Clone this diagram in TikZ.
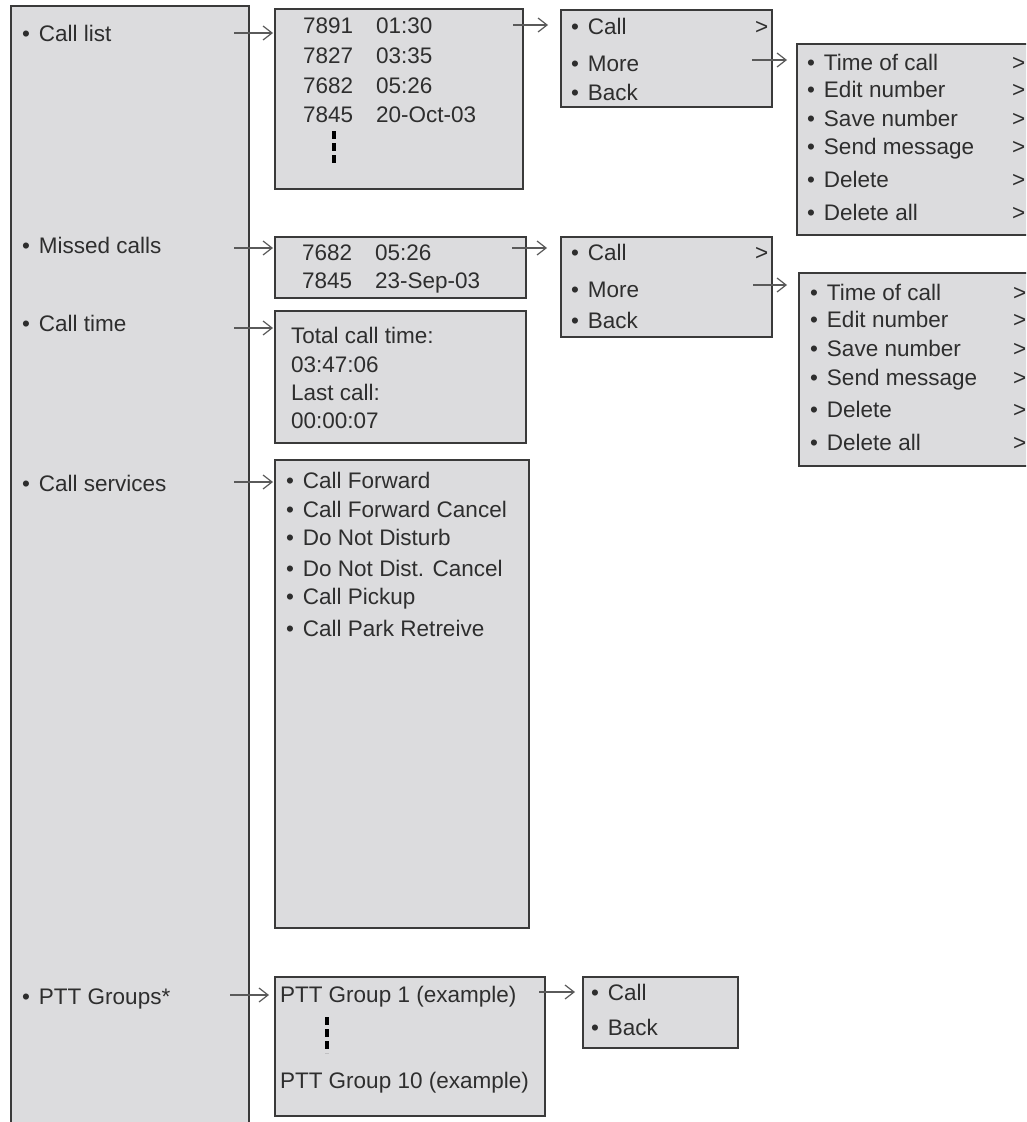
\documentclass[tikz,border=0pt]{standalone}
\usepackage{fontspec}
\setmainfont{Liberation Sans}
\usetikzlibrary{arrows.meta}
\definecolor{boxfill}{HTML}{DCDCDE}
\definecolor{boxline}{HTML}{3A3A3A}
\definecolor{txt}{HTML}{2E2E2E}
\definecolor{arrowc}{HTML}{5A5A5A}
\newcommand\bu{\llap{\textbullet\hspace{9pt}}}
\begin{document}
\begin{tikzpicture}[x=1pt,y=-1pt,
  box/.style={draw=boxline, fill=boxfill, line width=1.8pt, inner sep=0pt, outer sep=0pt, anchor=north west, rectangle},
  tx/.style={anchor=base west, inner sep=0pt, outer sep=0pt, text=txt, font=\fontsize{22.5}{27}\selectfont},
  conn/.style={draw=arrowc, line width=1.2pt, -{Straight Barb[length=9pt,width=14pt,line width=1.2pt]}},
  ell/.style={draw=black, line width=3.5pt, dash pattern=on 8pt off 4pt}]
\useasboundingbox (0,0) rectangle (1026,1122);
\fill[white] (0,0) rectangle (1026,1122);
\clip (0,0) rectangle (1026,1122);

% main menu panel
\node[box, minimum width=238pt, minimum height=1140pt] (panel) at (11,6) {};
\node[tx] (lCL) at (39,41) {\bu Call list};
\node[tx] (lMC) at (39,253) {\bu Missed calls};
\node[tx] (lCT) at (39,331) {\bu Call time};
\node[tx] (lCS) at (39,491) {\bu Call services};
\node[tx] (lPT) at (39,1004) {\bu PTT Groups*};

% call list box
\node[box, minimum width=248pt, minimum height=180pt] (bCL) at (275,9) {};
\node[tx] (cl1a) at (303,33) {7891};  \node[tx] (cl1b) at (376,33) {01:30};
\node[tx] (cl2a) at (303,63) {7827};  \node[tx] (cl2b) at (376,63) {03:35};
\node[tx] (cl3a) at (303,93) {7682};  \node[tx] (cl3b) at (376,93) {05:26};
\node[tx] (cl4a) at (303,122) {7845}; \node[tx] (cl4b) at (376,122) {20-Oct-03};
\draw[ell] (334,131) -- (334,163);

% menu 1
\node[box, minimum width=211pt, minimum height=97pt] (m1) at (561,10) {};
\node[tx] (m1a) at (588,34) {\bu Call};
\node[tx] (m1b) at (588,71) {\bu More};
\node[tx] (m1c) at (588,100) {\bu Back};
\node[tx] (m1g) at (755,34) {>};

% submenu 1
\node[box, minimum width=240pt, minimum height=191pt] (s1) at (797,44) {};
\node[tx] (s1a) at (824,70) {\bu Time of call};
\node[tx] (s1b) at (824,97) {\bu Edit number};
\node[tx] (s1c) at (824,126) {\bu Save number};
\node[tx] (s1d) at (824,154) {\bu Send message};
\node[tx] (s1e) at (824,187) {\bu Delete};
\node[tx] (s1f) at (824,220) {\bu Delete all};
\foreach \y/\n in {70/a,97/b,126/c,154/d,187/e,220/f} \node[tx] (s1g\n) at (1012,\y) {>};

% missed calls box
\node[box, minimum width=251pt, minimum height=61pt] (bMC) at (275,237) {};
\node[tx] (mc1a) at (302,260) {7682}; \node[tx] (mc1b) at (375,260) {05:26};
\node[tx] (mc2a) at (302,288) {7845}; \node[tx] (mc2b) at (375,288) {23-Sep-03};

% menu 2
\node[box, minimum width=211pt, minimum height=100pt] (m2) at (561,237) {};
\node[tx] (m2a) at (588,260) {\bu Call};
\node[tx] (m2b) at (588,297) {\bu More};
\node[tx] (m2c) at (588,328) {\bu Back};
\node[tx] (m2g) at (755,260) {>};

% submenu 2
\node[box, minimum width=240pt, minimum height=193pt] (s2) at (799,273) {};
\node[tx] (s2a) at (827,300) {\bu Time of call};
\node[tx] (s2b) at (827,327) {\bu Edit number};
\node[tx] (s2c) at (827,356) {\bu Save number};
\node[tx] (s2d) at (827,385) {\bu Send message};
\node[tx] (s2e) at (827,417) {\bu Delete};
\node[tx] (s2f) at (827,450) {\bu Delete all};
\foreach \y/\n in {300/a,327/b,356/c,385/d,417/e,450/f} \node[tx] (s2g\n) at (1013,\y) {>};

% call time box
\node[box, minimum width=251pt, minimum height=132pt] (bCT) at (275,311) {};
\node[tx] (ct1) at (291,343) {Total call time:};
\node[tx] (ct2) at (291,372) {03:47:06};
\node[tx] (ct3) at (291,400) {Last call:};
\node[tx] (ct4) at (291,428) {00:00:07};

% call services box
\node[box, minimum width=254pt, minimum height=468pt] (bCS) at (275,460) {};
\node[tx] (cs1) at (303,488) {\bu Call Forward};
\node[tx] (cs2) at (303,517) {\bu Call Forward Cancel};
\node[tx] (cs3) at (303,545) {\bu Do Not Disturb};
\node[tx] (cs4) at (303,576) {\bu Do Not Dist. Cancel};
\node[tx] (cs5) at (303,604) {\bu Call Pickup};
\node[tx] (cs6) at (303,636) {\bu Call Park Retreive};

% PTT groups box
\node[box, minimum width=270pt, minimum height=139pt] (bPT) at (275,977) {};
\node[tx] (pt1) at (280,1002) {PTT Group 1 (example)};
\node[tx] (pt2) at (280,1088) {PTT Group 10 (example)};
\draw[ell] (327,1017) -- (327,1053);

% call/back box
\node[box, minimum width=155pt, minimum height=71pt] (bCB) at (583,977) {};
\node[tx] (cb1) at (608,1000) {\bu Call};
\node[tx] (cb2) at (608,1035) {\bu Back};

% connectors
\coordinate (k1s) at (234,33);  \coordinate (k1e) at (273,33);
\coordinate (k2s) at (513,25);  \coordinate (k2e) at (548,25);
\coordinate (k3s) at (752,60);  \coordinate (k3e) at (787,60);
\coordinate (k4s) at (234,248); \coordinate (k4e) at (273,248);
\coordinate (k5s) at (512,248); \coordinate (k5e) at (547,248);
\coordinate (k6s) at (753,285); \coordinate (k6e) at (787,285);
\coordinate (k7s) at (234,328); \coordinate (k7e) at (273,328);
\coordinate (k8s) at (234,482); \coordinate (k8e) at (273,482);
\coordinate (k9s) at (230,995); \coordinate (k9e) at (269,995);
\coordinate (k10s) at (539,992); \coordinate (k10e) at (575,992);
\foreach \i in {1,...,10} \draw[conn] (k\i s) -- (k\i e);
\end{tikzpicture}
\end{document}
